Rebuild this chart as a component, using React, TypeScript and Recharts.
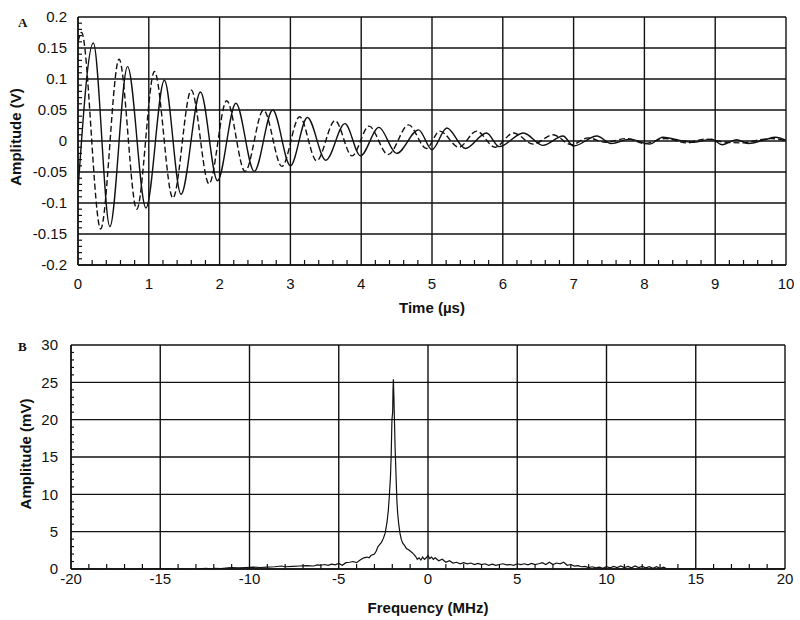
import React from 'react';
import { LineChart, Line, XAxis, YAxis, CartesianGrid } from 'recharts';

// panel A: time traces, [time µs, amplitude V]
const timeTicks = [0, 1, 2, 3, 4, 5, 6, 7, 8, 9, 10];
const voltTicks = [-0.2, -0.15, -0.1, -0.05, 0, 0.05, 0.1, 0.15, 0.2];

const solidTrace: [number, number][] = [
  [0, -0.08], [0.216, 0.158], [0.45, -0.138], [0.7, 0.12], [0.96, -0.108],
  [1.22, 0.098], [1.455, -0.086], [1.73, 0.079], [1.97, -0.064], [2.23, 0.061],
  [2.49, -0.049], [2.75, 0.05], [3.0, -0.04], [3.24, 0.038], [3.5, -0.031],
  [3.77, 0.028], [3.99, -0.024], [4.25, 0.022], [4.5, -0.02], [4.81, 0.018],
  [5.0, -0.014], [5.21, 0.021], [5.47, -0.012], [5.77, 0.013], [5.95, -0.009],
  [6.29, 0.013], [6.57, -0.007], [6.85, 0.008], [7.0, -0.008], [7.33, 0.008],
  [7.53, -0.004], [7.8, 0.003], [8.07, -0.005], [8.26, 0.006], [8.5, 0.001],
  [8.7, -0.002], [8.95, 0.003], [9.1, -0.006], [9.3, 0.002], [9.47, -0.004],
  [9.7, 0.002], [9.85, 0.006], [10, 0.001],
];

const dashedTrace: [number, number][] = [
  [0, 0.16], [0.05, 0.175], [0.32, -0.142], [0.58, 0.132], [0.83, -0.11],
  [1.08, 0.112], [1.34, -0.092], [1.6, 0.082], [1.85, -0.069], [2.1, 0.065],
  [2.36, -0.049], [2.62, 0.05], [2.88, -0.041], [3.13, 0.039], [3.37, -0.032],
  [3.63, 0.033], [3.87, -0.024], [4.11, 0.024], [4.38, -0.022], [4.67, 0.026],
  [4.92, -0.012], [5.11, 0.016], [5.38, -0.01], [5.63, 0.016], [5.89, -0.01],
  [6.15, 0.013], [6.43, -0.005], [6.71, 0.01], [6.97, -0.006], [7.2, 0.005],
  [7.45, -0.002], [7.75, 0.004], [8.0, -0.004], [8.3, 0.004], [8.6, -0.003],
  [8.85, 0.003], [9.15, -0.002], [9.4, -0.003], [9.62, 0.002], [9.8, 0.004],
  [10, 0.0],
];

// panel B: spectrum, [frequency MHz, amplitude mV]
const freqTicks = [-20, -15, -10, -5, 0, 5, 10, 15, 20];
const mvTicks = [0, 5, 10, 15, 20, 25, 30];

const spectrumLowSide: [number, number][] = [
  [-20, 0], [-18, 0], [-16, 0], [-14, 0], [-13, 0.02], [-12.4, 0.1], [-12.2, 0],
  [-12, 0.1], [-11.6, 0.05], [-11.2, 0.15], [-11, 0.2], [-10.6, 0.15], [-10.2, 0.2],
  [-9.8, 0.25], [-9.4, 0.2], [-9, 0.25], [-8.6, 0.3], [-8.2, 0.4], [-8, 0.3],
  [-7.6, 0.35], [-7.2, 0.4], [-6.8, 0.45], [-6.4, 0.4], [-6.2, 0.55], [-6, 0.5],
  [-5.8, 0.6], [-5.6, 0.5], [-5.4, 0.65], [-5.2, 0.55], [-5, 0.75], [-4.8, 0.5],
  [-4.6, 0.85], [-4.4, 0.9], [-4.2, 1.0], [-4, 0.85], [-3.8, 1.2], [-3.6, 1.5],
  [-3.4, 1.6], [-3.3, 1.5], [-3.2, 1.8], [-3, 2.0], [-2.9, 2.4],
];

const spectrumPeak: [number, number][] = [
  [-2.8, 3.0], [-2.7, 3.3], [-2.6, 3.6], [-2.5, 4.1], [-2.4, 4.8], [-2.3, 6.2],
  [-2.22, 7.9], [-2.16, 10], [-2.1, 12.5], [-2.06, 15.5], [-2.02, 20], [-1.98, 21],
  [-1.96, 24], [-1.94, 25.4], [-1.91, 23], [-1.88, 20], [-1.84, 16], [-1.79, 12.5],
  [-1.74, 9], [-1.7, 7.5], [-1.64, 6], [-1.57, 4.8], [-1.5, 4.0], [-1.42, 3.5],
  [-1.3, 3.1], [-1.2, 2.7], [-1.1, 2.6], [-1.0, 2.4], [-0.9, 2.2], [-0.8, 2.0],
  [-0.7, 1.7],
];

const spectrumHighSide: [number, number][] = [
  [-0.6, 1.3], [-0.5, 1.5], [-0.4, 1.2], [-0.3, 1.6], [-0.2, 1.3], [-0.1, 1.5],
  [0, 1.8], [0.1, 1.4], [0.2, 1.6], [0.3, 1.3], [0.4, 1.5], [0.6, 1.1], [0.8, 1.3],
  [1.0, 0.9], [1.2, 1.1], [1.4, 0.8], [1.6, 0.9], [1.8, 0.7], [2.0, 0.85], [2.2, 0.7],
  [2.4, 0.8], [2.6, 0.6], [2.8, 0.75], [3.0, 0.6], [3.2, 0.7], [3.4, 0.5], [3.6, 0.65],
  [3.8, 0.5], [4.0, 0.6], [4.2, 0.7], [4.4, 0.55], [4.6, 0.6], [4.8, 0.5], [5.0, 0.7],
  [5.2, 0.6], [5.4, 0.7], [5.6, 0.55], [5.8, 0.75], [6.0, 0.6], [6.2, 0.7], [6.4, 0.85],
  [6.6, 0.6], [6.8, 0.9], [7.0, 0.6], [7.2, 0.8], [7.4, 0.7], [7.6, 0.9], [7.8, 0.5],
  [8.0, 0.6], [8.2, 0.4], [8.4, 0.45], [8.6, 0.3], [8.8, 0.35], [9.0, 0.2], [9.2, 0.3],
  [9.4, 0.15], [9.6, 0.25], [9.8, 0.1], [10.0, 0.3], [10.2, 0.15], [10.4, 0.35],
  [10.6, 0.2], [10.8, 0.4], [11.0, 0.2], [11.2, 0.35], [11.4, 0.15], [11.6, 0.4],
  [11.8, 0.2], [12.0, 0.35], [12.2, 0.15], [12.4, 0.3], [12.6, 0.1], [12.8, 0.3],
  [13.0, 0.1], [13.2, 0.25], [13.4, 0], [15, 0], [17, 0], [20, 0],
];

const FONT = '"Liberation Sans", Arial, sans-serif';
const INK = '#111';
const tickStyle = { fontSize: 15, fill: INK, fontFamily: FONT };
const titleStyle = { fontSize: 15, fontWeight: 700, fill: INK, fontFamily: FONT };

const toPoints = (pairs: [number, number][]) => pairs.map(([x, y]) => ({ x, y }));

// minor tick positions between the labelled ones
const minorTicks = (from: number, to: number, step: number, majorStep: number) => {
  const out: number[] = [];
  const n = Math.round((to - from) / step);
  for (let i = 1; i < n; i++) {
    const v = +(from + i * step).toFixed(4);
    const r = v / majorStep;
    if (Math.abs(r - Math.round(r)) > 1e-6) out.push(v);
  }
  return out;
};

const withMinors = (majors: number[], minors: number[]) => [...majors, ...minors].sort((a, b) => a - b);

// bottom axis: label on majors, short inward stub on minors
const XTick = (props: any) => {
  const { x, y, payload, majors, gap, len } = props;
  const v = payload.value;
  if (majors.includes(v)) {
    return <text x={x} y={y} dy="0.71em" textAnchor="middle" style={tickStyle}>{v}</text>;
  }
  const base = y - gap;
  return <line x1={x} x2={x} y1={base} y2={base - len} stroke={INK} strokeWidth={1.2} />;
};

// left axis: same idea, stubs point right into the plot
const YTick = (props: any) => {
  const { x, y, payload, majors, gap, len } = props;
  const v = payload.value;
  if (majors.includes(v)) {
    return <text x={x} y={y} dy="0.355em" textAnchor="end" style={tickStyle}>{v}</text>;
  }
  const base = x + gap;
  return <line x1={base} x2={base + len} y1={y} y2={y} stroke={INK} strokeWidth={1.2} />;
};

const YTitle = (props: any) => {
  const { viewBox, text, cx, shift = 0 } = props;
  const cy = viewBox.y + viewBox.height / 2 + shift;
  return (
    <text x={cx} y={cy} transform={`rotate(-90 ${cx} ${cy})`} textAnchor="middle"
      dominantBaseline="central" style={titleStyle}>{text}</text>
  );
};

const XTitle = (props: any) => {
  const { viewBox, text, cy } = props;
  const cx = viewBox.x + viewBox.width / 2;
  return (
    <text x={cx} y={cy} textAnchor="middle" dominantBaseline="central" style={titleStyle}>{text}</text>
  );
};

const panelLetter: React.CSSProperties = {
  position: 'absolute', left: 18, fontFamily: '"Liberation Serif", "Times New Roman", serif',
  fontWeight: 700, fontSize: 13, lineHeight: '13px', color: INK,
};

export default function App() {
  const solid = toPoints(solidTrace);
  const dashed = toPoints(dashedTrace);
  const spectrum = toPoints([...spectrumLowSide, ...spectrumPeak, ...spectrumHighSide]);

  const timeAll = withMinors(timeTicks, minorTicks(0, 10, 0.2, 1));
  const voltAll = withMinors(voltTicks, minorTicks(-0.2, 0.2, 0.01, 0.05));
  const freqAll = withMinors(freqTicks, minorTicks(-20, 20, 1, 5));
  const mvAll = withMinors(mvTicks, minorTicks(0, 30, 1, 5));

  return (
    <div style={{ position: 'absolute', left: 0, top: 0, width: 800, height: 620, background: '#fff' }}>
      <div style={{ position: 'absolute', left: 0, top: 0 }}>
        <LineChart width={800} height={320} margin={{ top: 17, right: 14, bottom: 0, left: 0 }}>
          <CartesianGrid stroke={INK} strokeWidth={1.4}
            verticalValues={timeTicks} horizontalValues={voltTicks} />
          <XAxis dataKey="x" type="number" domain={[0, 10]} ticks={timeAll} interval={0}
            allowDataOverflow height={55} tickLine={false} tickSize={6} tickMargin={7}
            axisLine={{ stroke: INK, strokeWidth: 1.4 }}
            tick={<XTick majors={timeTicks} gap={13} len={5} />}
            label={<XTitle text="Time (µs)" cy={307} />} />
          <YAxis type="number" domain={[-0.2, 0.2]} ticks={voltAll} interval={0} width={78}
            allowDataOverflow tickLine={false} tickSize={6} tickMargin={5}
            axisLine={{ stroke: INK, strokeWidth: 1.4 }}
            tick={<YTick majors={voltTicks} gap={11} len={4} />}
            label={<YTitle text="Amplitude (V)" cx={15} shift={-4} />} />
          <Line data={dashed} dataKey="y" type="monotone" stroke={INK} strokeWidth={1.4}
            strokeDasharray="6 3" dot={false} isAnimationActive={false} />
          <Line data={solid} dataKey="y" type="monotone" stroke={INK} strokeWidth={1.4}
            dot={false} isAnimationActive={false} />
        </LineChart>
      </div>
      <div style={{ ...panelLetter, top: 16 }}>A</div>

      <div style={{ position: 'absolute', left: 0, top: 320 }}>
        <LineChart width={800} height={300} margin={{ top: 25, right: 15, bottom: 0, left: 0 }}>
          <CartesianGrid stroke={INK} strokeWidth={1.4}
            verticalValues={freqTicks} horizontalValues={mvTicks} />
          <XAxis dataKey="x" type="number" domain={[-20, 20]} ticks={freqAll} interval={0}
            allowDataOverflow height={51} tickLine={false} tickSize={2} tickMargin={2}
            axisLine={{ stroke: INK, strokeWidth: 1.4 }}
            tick={<XTick majors={freqTicks} gap={4} len={5} />}
            label={<XTitle text="Frequency (MHz)" cy={287} />} />
          <YAxis type="number" domain={[0, 30]} ticks={mvAll} interval={0} width={71}
            allowDataOverflow tickLine={false} tickSize={6} tickMargin={7}
            axisLine={{ stroke: INK, strokeWidth: 1.4 }}
            tick={<YTick majors={mvTicks} gap={13} len={3} />}
            label={<YTitle text="Amplitude (mV)" cx={25} shift={-3} />} />
          <Line data={spectrum} dataKey="y" type="linear" stroke={INK} strokeWidth={1.2}
            dot={false} isAnimationActive={false} />
        </LineChart>
      </div>
      <div style={{ ...panelLetter, top: 340 }}>B</div>
    </div>
  );
}
